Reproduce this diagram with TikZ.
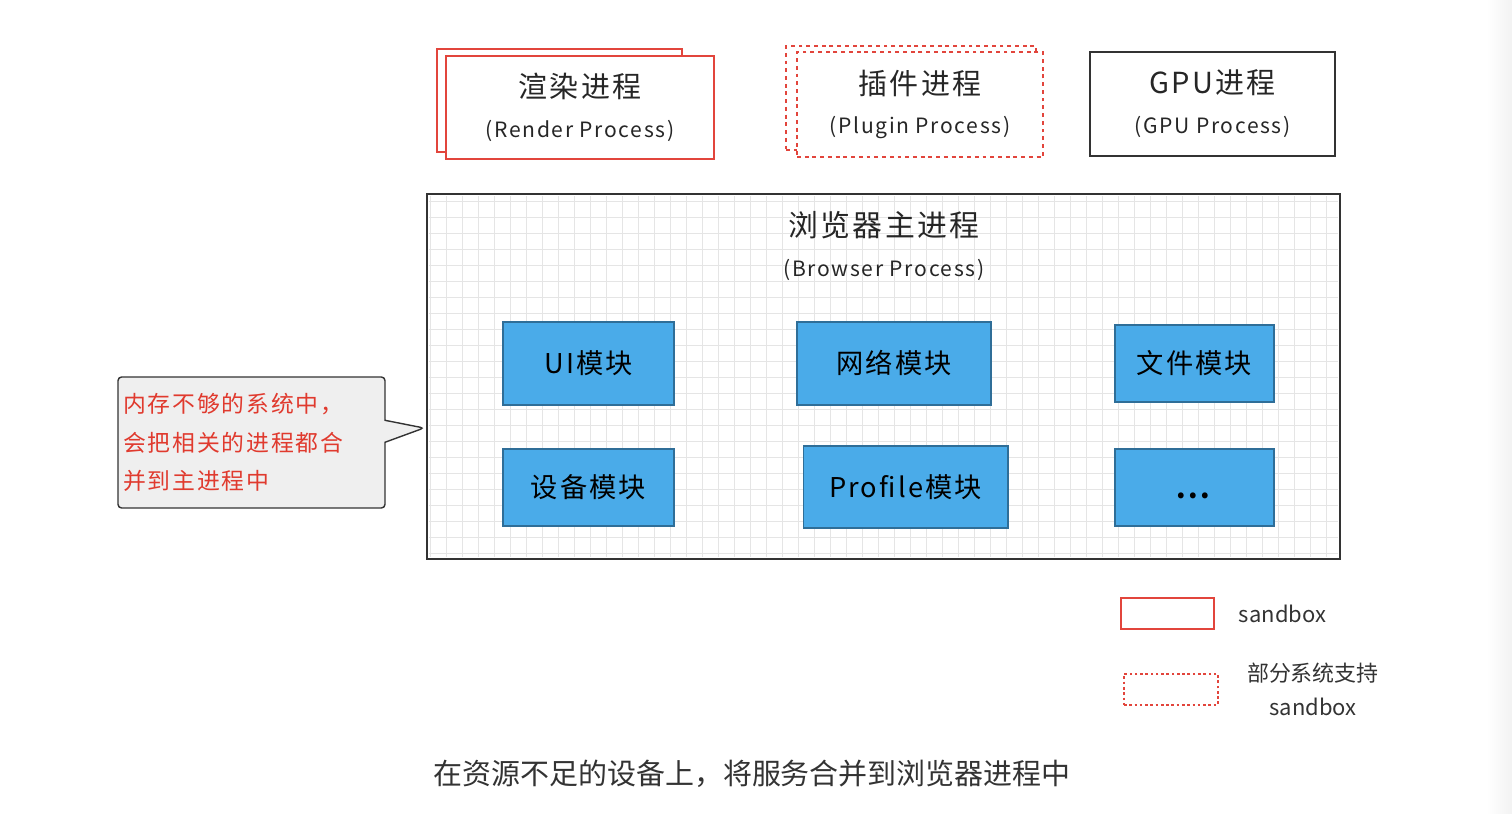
\documentclass[tikz,border=0pt]{standalone}
\usepackage{fontspec}
\setmainfont{Noto Sans CJK SC}
\newfontfamily\handfont[LetterSpace=8]{Noto Sans CJK SC}
\usetikzlibrary{positioning, shapes.callouts}

\definecolor{sandred}{HTML}{E2453C}
\definecolor{modblue}{HTML}{4AABE9}
\definecolor{modedge}{HTML}{2F6E98}
\definecolor{inkgray}{HTML}{333333}
\definecolor{notefill}{HTML}{EFEFEF}
\definecolor{notered}{HTML}{E03A2E}

\begin{document}
\begin{tikzpicture}[x=0.02cm, y=-0.02cm, inkgray,
    proc/.style={draw=inkgray, fill=white, line width=0.85pt, align=center, inner sep=0pt, text=black!85,
        font=\handfont\fontsize{12}{22.7}\selectfont},
    sandbox/.style={proc, draw=sandred},
    partbox/.style={proc, draw=sandred, line width=1.2pt, dash pattern=on 2.2pt off 2.2pt},
    title/.style={align=center, inner sep=0pt, text=black!85, font=\handfont\fontsize{12}{22.7}\selectfont},
    module/.style={draw=modedge, fill=modblue, line width=0.6pt, text=black, inner sep=0pt,
        font=\handfont\fontsize{15.5}{19}\selectfont},
    gridline/.style={black!10, line width=0.5pt},
    note/.style={rectangle callout, draw=inkgray, fill=notefill, line width=0.8pt, rounded corners=2pt,
        callout pointer width=0.44cm, minimum width=5.34cm, minimum height=2.62cm, text width=5.14cm,
        inner xsep=0.1cm, align=left, text=notered, font=\handfont\fontsize{13}{21.8}\selectfont},
    legend/.style={text=black!80, inner sep=0pt, font=\fontsize{12.5}{19.5}\selectfont}]

    \useasboundingbox (0,0) rectangle (1512,814);
    \shade[left color=white, right color=black!5] (1486,0) rectangle (1512,814);

    % sandboxed processes
    \node[sandbox, minimum width=4.9cm, minimum height=2.06cm] (renderback) at (559.5,100.5) {};
    \node[sandbox, minimum width=5.36cm, minimum height=2.06cm] (render) at (580,107.5)
        {{\fontsize{16.5}{22.7}\selectfont 渲染进程}\\(Render Process)};
    \node[partbox, minimum width=5cm, minimum height=2.08cm] (pluginback) at (911,98) {};
    \node[partbox, minimum width=4.92cm, minimum height=2.1cm] (plugin) at (920,104.5)
        {{\fontsize{16.5}{22.7}\selectfont 插件进程}\\(Plugin Process)};
    \node[proc, minimum width=4.9cm, minimum height=2.08cm] (gpu) at (1212.5,104)
        {{\fontsize{16.5}{22.7}\selectfont GPU进程}\\(GPU Process)};

    % browser process with grid
    \foreach \gx in {430,446,...,1334}
        \draw[gridline] (\gx,196) -- (\gx,557);
    \foreach \gy in {201,217,...,553}
        \draw[gridline] (429,\gy) -- (1338,\gy);
    \node[proc, fill=none, minimum width=18.26cm, minimum height=7.3cm] (browser) at (883.5,376.5) {};
    \node[title] (browsertitle) at (884,246)
        {{\fontsize{17}{22.7}\selectfont 浏览器主进程}\\(Browser Process)};

    \node[module, minimum width=3.42cm, minimum height=1.66cm] (ui) at (588.5,363.5) {UI模块};
    \node[module, minimum width=3.88cm, minimum height=1.66cm] (net) at (894,363.5) {网络模块};
    \node[module, minimum width=3.18cm, minimum height=1.54cm] (file) at (1194.5,363.5) {文件模块};
    \node[module, minimum width=3.42cm, minimum height=1.54cm] (dev) at (588.5,487.5) {设备模块};
    \node[module, minimum width=4.1cm, minimum height=1.64cm] (profile) at (905.5,487) {Profile模块};
    \node[module, minimum width=3.18cm, minimum height=1.54cm] (more) at (1194.5,487.5)
        {\smash{\raisebox{-0.23cm}{\textbf{...}}}};

    % remark
    \node[note, callout absolute pointer={(424,428)}] (remark) at (251.5,442.5)
        {内存不够的系统中，\\会把相关的进程都合\\并到主进程中};

    % legend
    \node[sandbox, line width=0.7pt, minimum width=1.86cm, minimum height=0.62cm] (lgfull) at (1167.5,613.5) {};
    \node[legend, right=0.48cm of lgfull] (lgfulltxt) {sandbox};
    \node[partbox, line width=0.8pt, dash pattern=on 1.5pt off 1.5pt, minimum width=1.88cm, minimum height=0.62cm]
        (lgpart) at (1171,689.5) {};
    \node[legend, align=center, right=0.56cm of lgpart] (lgparttxt) {部分系统支持\\sandbox};

    \node[text=inkgray, font=\fontsize{16.5}{20}\selectfont] (caption) at (752,774)
        {在资源不足的设备上，将服务合并到浏览器进程中};
\end{tikzpicture}
\end{document}
